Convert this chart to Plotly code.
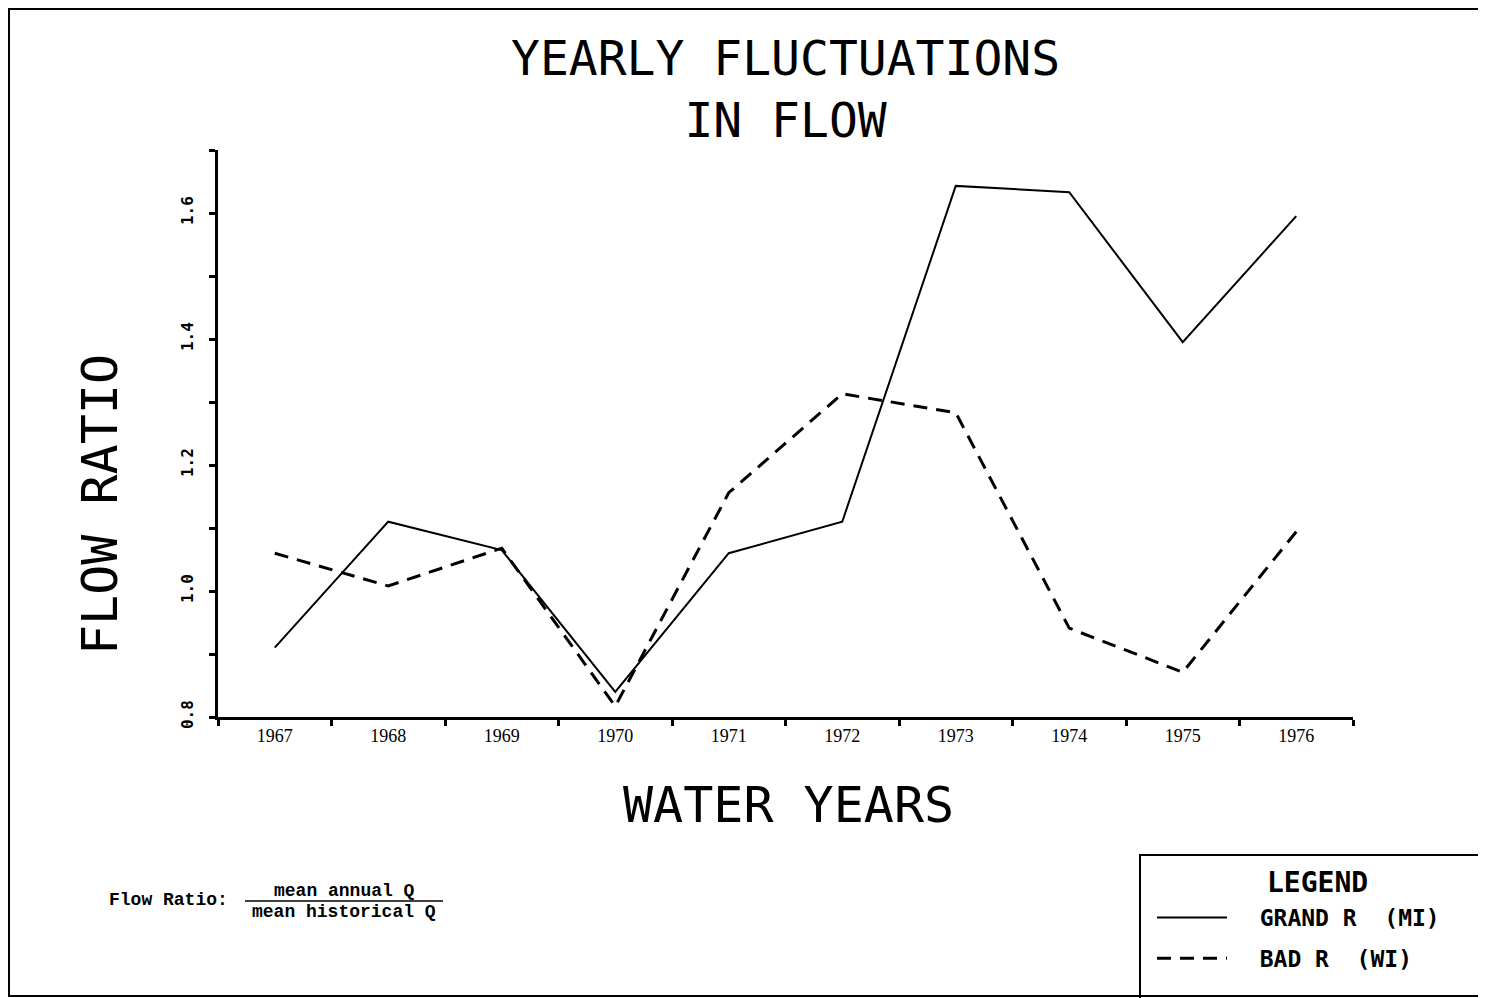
import plotly.graph_objects as go

# water years (categories) and flow ratios
years = ["1967", "1968", "1969", "1970", "1971", "1972", "1973", "1974", "1975", "1976"]
grand_r = [0.91, 1.11, 1.065, 0.84, 1.06, 1.11, 1.643, 1.633, 1.395, 1.595]
bad_r = [1.06, 1.008, 1.068, 0.817, 1.156, 1.313, 1.283, 0.941, 0.871, 1.094]

y_tickvals = [0.8, 1.0, 1.2, 1.4, 1.6]
y_ticktext = ["0.8", "1.0", "1.2", "1.4", "1.6"]

PLOTTER = "DejaVu Sans Mono"
TYPEWRITER = "Liberation Mono"

fig = go.Figure()

fig.add_trace(go.Scatter(
    x=years, y=grand_r, mode="lines", name="  GRAND R  (MI)",
    line=dict(color="black", width=2),
    legendgroup="g1",
))
fig.add_trace(go.Scatter(
    x=years, y=bad_r, mode="lines", name="  BAD R  (WI)",
    line=dict(color="black", width=3, dash="14px,9px"),
    legendgroup="g2",
))

# page has an 8px body margin, so the figure is 1478x990 and everything
# below is placed in page pixels relative to the plot area (218..1353, 150..717)
def px(x):
    return (x - 218) / 1135


def py(y):
    return (717 - y) / 567


annotations = [
    dict(text="YEARLY FLUCTUATIONS<br>IN FLOW", x=px(785), y=py(89), font=dict(family=PLOTTER, size=48)),
    dict(text="WATER YEARS", x=px(788), y=py(805), font=dict(family=PLOTTER, size=50)),
    dict(text="FLOW RATIO", x=px(100), y=py(505), textangle=-90, font=dict(family=PLOTTER, size=50)),
    dict(text="LEGEND", x=px(1317), y=py(882), font=dict(family=PLOTTER, size=28, weight="bold")),
    dict(text="Flow Ratio:", x=px(107), y=py(900), xanchor="left",
         font=dict(family=TYPEWRITER, size=18, weight="bold")),
    dict(text="mean annual Q", x=px(344), y=py(891), font=dict(family=TYPEWRITER, size=18, weight="bold")),
    dict(text="mean historical Q", x=px(344), y=py(912), font=dict(family=TYPEWRITER, size=18, weight="bold")),
]
for a in annotations:
    a.setdefault("xanchor", "center")
    a.update(xref="paper", yref="paper", yanchor="middle", showarrow=False)
    a["font"]["color"] = "black"

shapes = [
    # outer frame
    dict(type="rect", xref="paper", yref="paper", x0=px(9), x1=px(1485), y0=py(996), y1=py(9),
         line=dict(color="black", width=2)),
    # legend box
    dict(type="rect", xref="paper", yref="paper", x0=px(1140), x1=px(1495), y0=py(1005), y1=py(855),
         line=dict(color="black", width=2)),
    # fraction bar
    dict(type="line", xref="paper", yref="paper", x0=px(245), x1=px(443), y0=py(901), y1=py(901),
         line=dict(color="black", width=1.5)),
]

fig.update_layout(
    width=1478,
    height=990,
    margin=dict(l=210, r=133, t=142, b=281),
    paper_bgcolor="white",
    plot_bgcolor="white",
    font=dict(color="black"),
    annotations=annotations,
    shapes=shapes,
    showlegend=True,
    legend=dict(
        x=px(1152), y=py(896), xanchor="left", yanchor="top",
        bgcolor="rgba(0,0,0,0)", borderwidth=0,
        itemwidth=70, tracegroupgap=8,
        font=dict(family=PLOTTER, size=23, weight="bold", color="black"),
    ),
    xaxis=dict(
        type="category",
        range=[-0.5, 9.5],
        tickson="boundaries",
        ticks="outside", ticklen=6, tickwidth=3, tickcolor="black",
        showline=True, linecolor="black", linewidth=3,
        showgrid=False, zeroline=False,
        tickfont=dict(family="Liberation Serif", size=18, color="black"),
    ),
    yaxis=dict(
        range=[0.8, 1.7],
        tickvals=y_tickvals, ticktext=y_ticktext,
        tickangle=-90,
        ticks="outside", ticklen=6, tickwidth=3, tickcolor="black",
        minor=dict(dtick=0.1, tick0=0.8, ticks="outside", ticklen=6, tickwidth=3, tickcolor="black"),
        ticklabelstandoff=10,
        showline=True, linecolor="black", linewidth=3,
        showgrid=False, zeroline=False,
        tickfont=dict(family=PLOTTER, size=16, weight="bold", color="black"),
    ),
)

fig.write_html("out.html")
